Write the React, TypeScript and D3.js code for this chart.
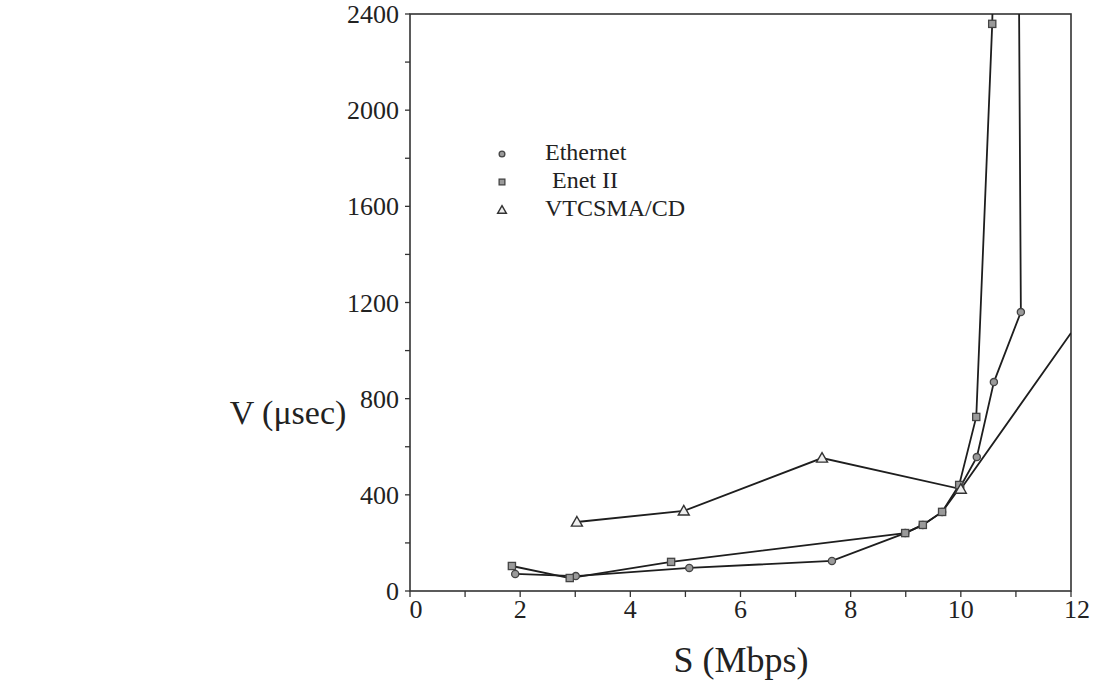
import React from "react";
import * as d3 from "d3";

const ethernetX = [1.91, 3.01, 5.07, 7.66, 8.99, 9.31, 9.66, 9.99, 10.29, 10.6, 11.09, 11.05];
const ethernetY = [71, 62, 96, 125, 241, 275, 329, 433, 557, 869, 1160, 2700];
const enetX = [1.85, 2.9, 4.74, 8.99, 9.31, 9.66, 9.97, 10.28, 10.57, 10.6];
const enetY = [104, 54, 121, 241, 275, 329, 441, 724, 2359, 2700];
const vtX = [3.03, 4.97, 7.48, 10.0, 12.0];
const vtY = [287, 333, 553, 424, 1073];

const xTickLabels = [0, 2, 4, 6, 8, 10, 12];
const yTickLabels = [0, 400, 800, 1200, 1600, 2000, 2400];
const legendNames = ["Ethernet", "Enet II", "VTCSMA/CD"];

const W = 1099, H = 682;
const L = 410, R = 1071, T = 14, B = 591;
const FONT = "'Liberation Serif', 'Times New Roman', serif";
const INK = "#222";

type P = { x: number; y: number };
const zip = (xs: number[], ys: number[]): P[] => xs.map((x, i) => ({ x, y: ys[i] }));

export default function App() {
  const x = d3.scaleLinear().domain([0, 12]).range([L, R]);
  const y = d3.scaleLinear().domain([0, 2400]).range([B, T]);
  const line = d3.line<P>().x(d => x(d.x)).y(d => y(d.y));

  const series = [
    { name: legendNames[0], pts: zip(ethernetX, ethernetY), shape: "circle" },
    { name: legendNames[1], pts: zip(enetX, enetY), shape: "square" },
    { name: legendNames[2], pts: zip(vtX, vtY), shape: "triangle" },
  ];

  const marker = (shape: string, cx: number, cy: number, key: any, k = 1) => {
    if (shape === "circle")
      return <circle key={key} cx={cx} cy={cy} r={3.6 * k} fill="#9a9a9a" stroke="#444" strokeWidth={1.3} />;
    if (shape === "square")
      return <rect key={key} x={cx - 3.6 * k} y={cy - 3.6 * k} width={7.2 * k} height={7.2 * k} fill="#9a9a9a" stroke="#444" strokeWidth={1.3} />;
    const s = 5.5 * k;
    return (
      <path key={key} d={`M${cx},${cy - s}L${cx + s},${cy + s * 0.75}L${cx - s},${cy + s * 0.75}Z`}
        fill="#eee" stroke="#333" strokeWidth={1.4} />
    );
  };

  const xMinor = d3.range(0, 13, 1);
  const yMinor = d3.range(0, 2401, 200);

  return (
    <svg width={W} height={H} style={{ position: "absolute", left: 0, top: 0, background: "#fff" }}
      fontFamily={FONT}>
      <defs>
        <clipPath id="plot">
          <rect x={L} y={T} width={R - L} height={B - T} />
        </clipPath>
      </defs>
      <rect x={0} y={0} width={W} height={H} fill="#fff" />

      {/* frame */}
      <rect x={L} y={T} width={R - L} height={B - T} fill="none" stroke="#333" strokeWidth={1.6} />

      {/* ticks */}
      {xMinor.map(v => (
        <line key={"xt" + v} x1={x(v)} x2={x(v)} y1={B} y2={B + 6} stroke="#333" strokeWidth={1.3} />
      ))}
      {yMinor.map(v => (
        <line key={"yt" + v} x1={L - 5} x2={L} y1={y(v)} y2={y(v)} stroke="#333" strokeWidth={1.3} />
      ))}

      {/* tick labels */}
      {xTickLabels.map(v => (
        <text key={"xl" + v} x={x(v) + (v === 0 ? 6 : v === 12 ? 6 : 0)} y={B + 27} textAnchor="middle"
          fontSize={26} fill={INK}>{v}</text>
      ))}
      {yTickLabels.map(v => (
        <text key={"yl" + v} x={L - 11} y={y(v) + 9} textAnchor="end" fontSize={26} fill={INK}>{v}</text>
      ))}

      {/* axis titles */}
      <text x={741} y={672} textAnchor="middle" fontSize={36} fill={INK}>S (Mbps)</text>
      <text x={288} y={424} textAnchor="middle" fontSize={34} fill={INK}>V (μsec)</text>

      {/* lines */}
      <g clipPath="url(#plot)">
        {series.map(s => (
          <path key={s.name} d={line(s.pts) || ""} fill="none" stroke="#1e1e1e" strokeWidth={1.8} />
        ))}
      </g>
      <g>
        {series.map(s =>
          s.pts
            .filter(p => p.x < 12 && p.y <= 2400)
            .map((p, i) => marker(s.shape, x(p.x), y(p.y), s.name + i))
        )}
      </g>

      {/* legend */}
      {series.map((s, i) => (
        <g key={"lg" + i}>
          {marker(s.shape, 502, 154 + i * 28, "lm" + i, 0.8)}
          <text x={i === 1 ? 552 : 545} y={160 + i * 28} fontSize={24} fill={INK}>{s.name}</text>
        </g>
      ))}
    </svg>
  );
}
